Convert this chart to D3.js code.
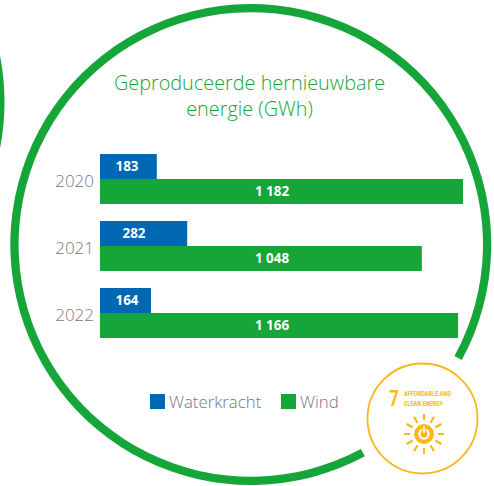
<!DOCTYPE html>
<html><head><meta charset="utf-8">
<script src="https://cdn.jsdelivr.net/npm/d3@7/dist/d3.min.js"></script>
<style>html,body{margin:0;padding:0;background:#fff}svg{display:block}</style>
</head><body><svg id="c" width="494" height="486"></svg>
<script>
const years = ["2020","2021","2022"];
const waterkracht = [183,282,164];
const wind = [1182,1048,1166];
const seriesNames = ["Waterkracht","Wind"];
const titleLines = ["Geproduceerde hernieuwbare","energie (GWh)"];
const sdgLines = ["AFFORDABLE AND","CLEAN ENERGY"];
const BLUE="#0067b4", GREEN="#15a538", GREY="#777777", YEL="#fbb61b";
const font="'Open Sans',sans-serif";
const svg=d3.select("#c");
const fmt=v=>String(v).replace(/\B(?=(\d{3})+$)/g," ");

// decorative rings
const arc=d3.arc();
const deg=d=>d*Math.PI/180;
svg.append("path").attr("transform","translate(250.8,244.5)").attr("fill",GREEN)
  .attr("d",arc({innerRadius:232.2,outerRadius:240.5,startAngle:deg(151.7),endAngle:deg(478.7)}));
svg.append("path").attr("transform","translate(-236,102)").attr("fill",GREEN)
  .attr("d",arc({innerRadius:236,outerRadius:240.5,startAngle:deg(70),endAngle:deg(110)}));

// title
svg.append("g").selectAll("text").data(titleLines).join("text")
  .attr("x",249.5).attr("y",(d,i)=>90+i*26).attr("text-anchor","middle")
  .attr("font-family",font).attr("font-size",19.85).attr("font-weight",300).attr("fill",GREEN).text(d=>d);

// scales
const x=d3.scaleLinear().domain([0,1182]).range([100,463]);
const y=d3.scaleBand().domain(years).range([154,338]).paddingInner(17/67).paddingOuter(0);
const bh=y.bandwidth()/2;

// axis labels
const axis=d3.axisLeft(y).tickSize(0).tickPadding(6);
const ax=svg.append("g").attr("transform","translate(100,0)").call(axis);
ax.select(".domain").remove();
ax.selectAll("text").attr("font-family",font).attr("font-size",17).attr("font-weight",300).attr("fill",GREY)
  .attr("y",3);

// bars
const rows=years.map((yr,i)=>({yr,w:waterkracht[i],g:wind[i]}));
const lbl=(sel)=>sel.attr("text-anchor","middle").attr("font-family",font).attr("font-size",13.4)
  .attr("font-weight",700).attr("fill","#fff");
svg.append("g").selectAll("rect").data(rows).join("rect").attr("fill",BLUE)
  .attr("x",x(0)).attr("y",d=>y(d.yr)).attr("width",d=>x(d.w)-x(0)+.6).attr("height",bh);
svg.append("g").selectAll("rect").data(rows).join("rect").attr("fill",GREEN)
  .attr("x",x(0)).attr("y",d=>y(d.yr)+bh).attr("width",d=>x(d.g)-x(0)).attr("height",bh);
svg.append("g").selectAll("text").data(rows).join("text").call(lbl)
  .attr("x",(d,i)=>[127,134,127][i]).attr("y",d=>y(d.yr)+bh/2+4.5).text(d=>fmt(d.w));
svg.append("g").selectAll("text").data(rows).join("text").call(lbl)
  .attr("x",272).attr("y",d=>y(d.yr)+bh*1.5+4.5).text(d=>fmt(d.g));

// legend
const lx=[150,281], tx=[169,300];
const lg=svg.append("g");
lg.selectAll("rect").data(seriesNames).join("rect").attr("x",(d,i)=>lx[i]).attr("y",394)
  .attr("width",15).attr("height",15).attr("fill",(d,i)=>i?GREEN:BLUE);
lg.selectAll("text").data(seriesNames).join("text").attr("x",(d,i)=>tx[i]).attr("y",408)
  .attr("font-family",font).attr("font-size",16.8).attr("font-weight",300).attr("fill",GREY).text(d=>d);

// SDG badge
const b=svg.append("g");
b.append("circle").attr("cx",422.5).attr("cy",418.5).attr("r",55).attr("fill","#fff").attr("stroke",YEL).attr("stroke-width",1.8);
b.append("text").attr("x",394).attr("y",406).attr("text-anchor","middle").attr("font-family","'Roboto',sans-serif")
  .attr("font-size",22).attr("font-weight",700).attr("fill",YEL).attr("transform","translate(394,0) scale(.75,1) translate(-394,0)").text("7");
b.selectAll("text.s").data(sdgLines).join("text").attr("class","s").attr("x",404).attr("y",(d,i)=>396+i*9.5)
  .attr("font-family","'Roboto',sans-serif").attr("font-size",7.8).attr("font-weight",700).attr("fill",YEL)
  .attr("textLength",(d,i)=>[47,39][i]).attr("lengthAdjust","spacingAndGlyphs").text(d=>d);
const sx=424,sy=434;
const rays=d3.range(12);
b.selectAll("line.r").data(rays).join("line").attr("class","r")
  .attr("x1",d=>sx+(d%3===0?14:13)*Math.sin(deg(d*30))).attr("y1",d=>sy-(d%3===0?14:13)*Math.cos(deg(d*30)))
  .attr("x2",d=>sx+20*Math.sin(deg(d*30))).attr("y2",d=>sy-20*Math.cos(deg(d*30)))
  .attr("stroke",YEL).attr("stroke-width",2.1);
b.append("circle").attr("cx",sx).attr("cy",sy).attr("r",10).attr("fill",YEL);
b.append("circle").attr("cx",sx).attr("cy",sy).attr("r",4.6).attr("fill","none").attr("stroke","#fff").attr("stroke-width",2.2);
b.append("line").attr("x1",sx).attr("x2",sx).attr("y1",sy-8).attr("y2",sy-1).attr("stroke",YEL).attr("stroke-width",3.5);
b.append("line").attr("x1",sx).attr("x2",sx).attr("y1",sy-8).attr("y2",sy-1).attr("stroke","#fff").attr("stroke-width",1.4);
</script></body></html>
